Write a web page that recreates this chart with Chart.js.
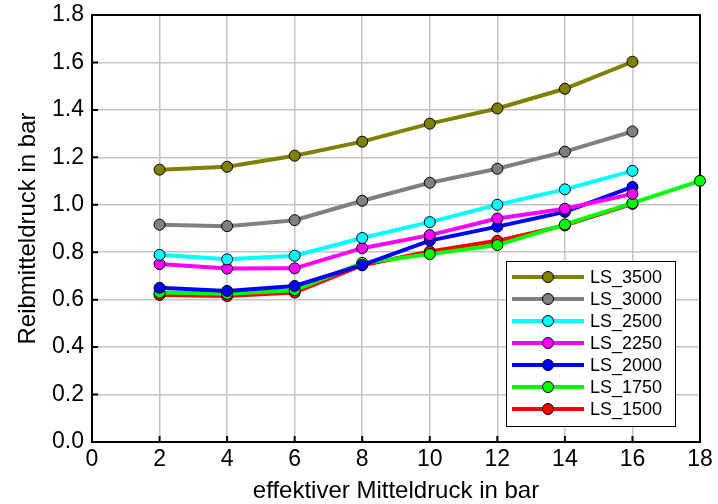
<!DOCTYPE html>
<html>
<head>
<meta charset="utf-8">
<script src="https://cdn.jsdelivr.net/npm/chart.js@4/dist/chart.umd.min.js"></script>
<style>
html,body{margin:0;padding:0;background:#fff;}
#wrap{width:718px;height:504px;position:relative;}
</style>
</head>
<body>
<div id="wrap"><canvas id="c" width="718" height="504"></canvas></div>
<script>
const xValues = [2, 4, 6, 8, 10, 12, 14, 16, 18];
const seriesNames = ['LS_3500', 'LS_3000', 'LS_2500', 'LS_2250', 'LS_2000', 'LS_1750', 'LS_1500'];
const ls3500 = [1.148, 1.160, 1.207, 1.266, 1.342, 1.406, 1.489, 1.603];
const ls3000 = [0.916, 0.910, 0.935, 1.017, 1.093, 1.152, 1.224, 1.309];
const ls2500 = [0.789, 0.770, 0.785, 0.860, 0.927, 1.000, 1.065, 1.143];
const ls2250 = [0.750, 0.731, 0.732, 0.817, 0.872, 0.942, 0.983, 1.046];
const ls2000 = [0.650, 0.637, 0.658, 0.746, 0.849, 0.908, 0.970, 1.075];
const ls1750 = [0.630, 0.625, 0.640, 0.755, 0.792, 0.830, 0.917, 1.007, 1.101];
const ls1500 = [0.620, 0.615, 0.630, 0.745, 0.803, 0.848, 0.913, 1.004];
const seriesValues = [ls3500, ls3000, ls2500, ls2250, ls2000, ls1750, ls1500];
const seriesColors = ['#808000', '#808080', '#00ffff', '#ff00ff', '#0000ff', '#00ff00', '#ff0000'];
const xTitle = 'effektiver Mitteldruck in bar';
const yTitle = 'Reibmitteldruck in bar';

const FONT = "'Liberation Sans', Arial, Helvetica, sans-serif";

const datasets = seriesNames.map((name, i) => ({
  label: name,
  data: seriesValues[i].map((v, j) => ({x: xValues[j], y: v})),
  borderColor: seriesColors[i],
  backgroundColor: seriesColors[i],
  pointBackgroundColor: seriesColors[i],
  pointBorderColor: '#000',
  pointBorderWidth: 1,
  pointRadius: 5.5,
  borderWidth: 4,
  tension: 0,
  clip: false
}));

const framePlugin = {
  id: 'frame',
  beforeDatasetsDraw(chart) {
    const {ctx, chartArea: a, scales} = chart;
    ctx.save();
    ctx.strokeStyle = '#000';
    ctx.lineWidth = 2;
    ctx.beginPath();
    scales.y.ticks.forEach(t => {
      const y = scales.y.getPixelForValue(t.value);
      ctx.moveTo(a.left, y); ctx.lineTo(a.left + 6, y);
    });
    scales.x.ticks.forEach(t => {
      const x = scales.x.getPixelForValue(t.value);
      ctx.moveTo(x, a.bottom); ctx.lineTo(x, a.bottom - 6);
    });
    ctx.stroke();
    ctx.strokeRect(a.left, a.top, a.right - a.left, a.bottom - a.top);
    ctx.restore();
  },
  afterDatasetsDraw(chart) {
    const {ctx} = chart;
    const bx = 506, by = 261, bw = 169, bh = 165;
    ctx.save();
    ctx.fillStyle = '#fff';
    ctx.fillRect(bx, by, bw, bh);
    ctx.strokeStyle = '#000';
    ctx.lineWidth = 1;
    ctx.strokeRect(bx + 0.5, by + 0.5, bw, bh);
    ctx.font = '18px ' + FONT;
    ctx.textBaseline = 'middle';
    ctx.textAlign = 'left';
    chart.data.datasets.forEach((ds, i) => {
      const y = 277 + i * 22;
      ctx.strokeStyle = ds.borderColor;
      ctx.lineWidth = 4;
      ctx.beginPath();
      ctx.moveTo(512, y); ctx.lineTo(584, y);
      ctx.stroke();
      ctx.beginPath();
      ctx.arc(548, y, 5.5, 0, Math.PI * 2);
      ctx.fillStyle = ds.pointBackgroundColor;
      ctx.fill();
      ctx.strokeStyle = '#000';
      ctx.lineWidth = 1;
      ctx.stroke();
      ctx.fillStyle = '#000';
      ctx.fillText(ds.label, 590, y + 1);
    });
    ctx.restore();
  }
};

new Chart(document.getElementById('c'), {
  type: 'line',
  data: {datasets},
  options: {
    responsive: false,
    animation: false,
    layout: {padding: {top: 15, right: 18, left: 0, bottom: 0}},
    plugins: {legend: {display: false}, tooltip: {enabled: false}},
    scales: {
      x: {
        type: 'linear',
        min: 0, max: 18,
        afterFit(s) { s.height = 62; s.paddingLeft = 0; s.paddingRight = 0; },
        ticks: {stepSize: 2, color: '#000', font: {family: FONT, size: 23}, padding: 4, maxRotation: 0, autoSkip: false},
        grid: {color: '#c4c4c4', lineWidth: 1.5, drawTicks: false},
        border: {display: false},
        title: {display: true, text: xTitle, color: '#000', font: {family: FONT, size: 24}, padding: {top: 0, bottom: -2}}
      },
      y: {
        min: 0, max: 1.8,
        afterFit(s) { s.width = 92; s.paddingTop = 0; s.paddingBottom = 0; },
        ticks: {stepSize: 0.2, color: '#000', font: {family: FONT, size: 23}, padding: 8,
          callback: v => Number(v).toFixed(1)},
        grid: {color: '#c4c4c4', lineWidth: 1.5, drawTicks: false},
        border: {display: false},
        title: {display: true, text: yTitle, color: '#000', font: {family: FONT, size: 24}, padding: {top: 14, bottom: 0}}
      }
    }
  },
  plugins: [framePlugin]
});
</script>
</body>
</html>
